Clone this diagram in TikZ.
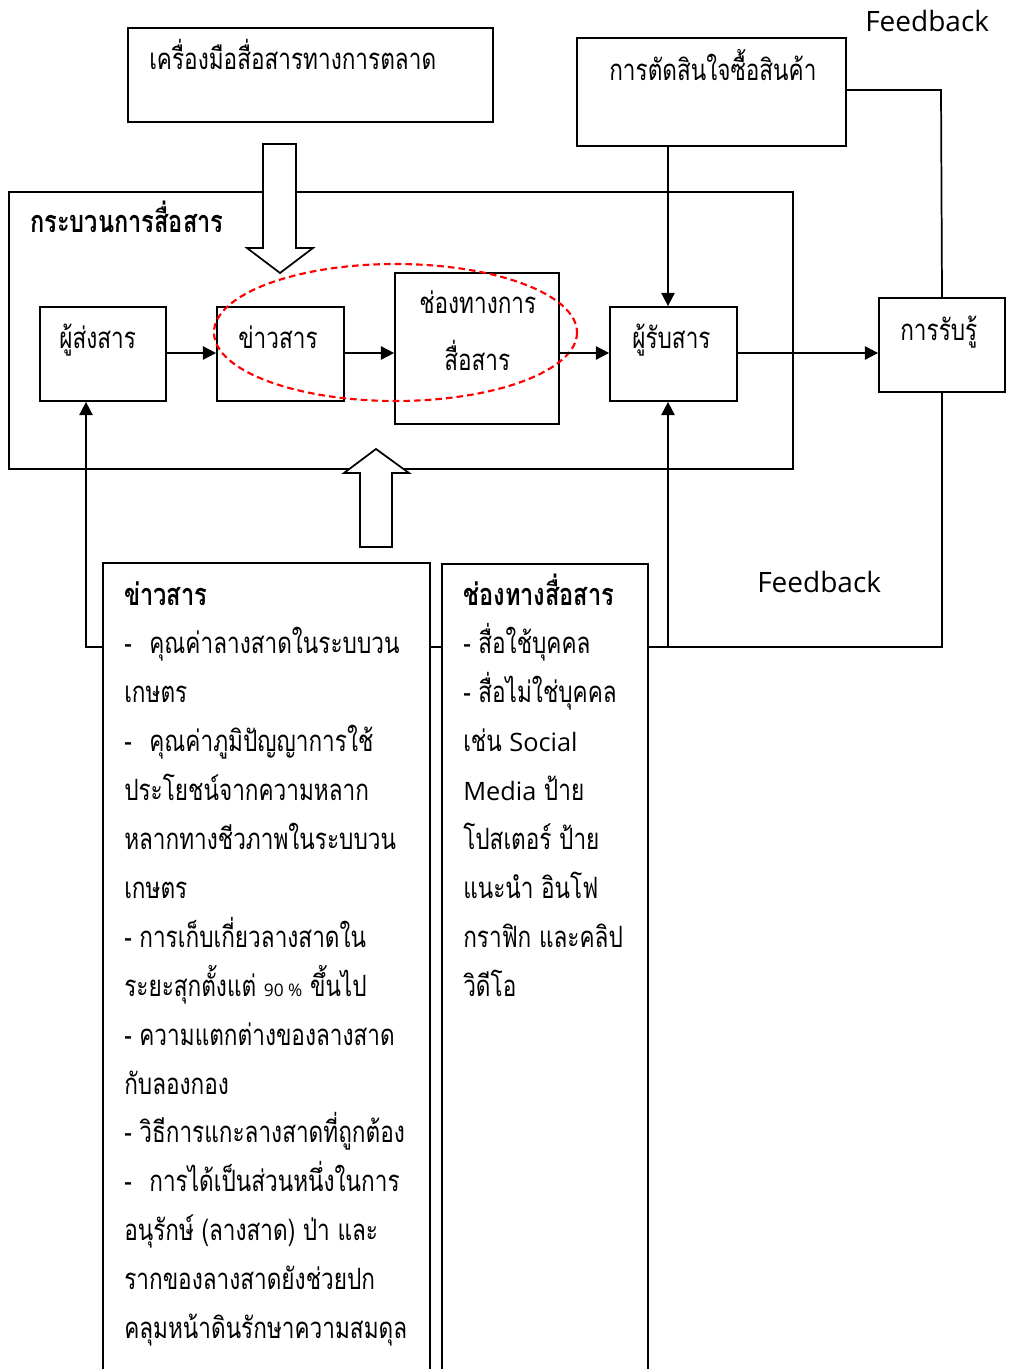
\documentclass[tikz,border=0pt]{standalone}
\usepackage{fontspec}
\setmainfont[Script=Thai, FakeStretch=0.77]{Loma}
\newfontfamily\latinfont{Open Sans}
\usetikzlibrary{arrows.meta,fit}
\tikzset{
  box/.style={draw, line width=1.3pt, inner sep=0pt},
  ln/.style={line width=1.3pt},
  arr/.style={line width=1.3pt, -{Triangle[length=10pt,width=10pt]}},
  txt/.style={anchor=base west, inner sep=0pt, font=\fontsize{22}{24}\selectfont},
  btxt/.style={txt, font=\fontsize{23}{25}\selectfont\bfseries},
  fbtxt/.style={anchor=base west, inner sep=0pt, font=\latinfont\fontsize{21}{25}\selectfont},
  hollow/.style={draw, line width=1.3pt, fill=white, line join=miter},
}
\newcommand{\lat}[1]{{\latinfont\fontsize{19}{22}\selectfont #1}}
\begin{document}
\begin{tikzpicture}[x=0.75pt,y=-0.75pt]
\useasboundingbox (0,0) rectangle (1008,1369);
% boxes
\node[box, fit={(128,28) (493,122)}] (tool) {};
\node[box, fit={(9,192) (793,469)}] (frame) {};
\node[box, fit={(577,38) (846,146)}] (dec) {};
\node[box, fit={(40,307) (166,401)}] (sender) {};
\node[box, fit={(217,307) (344,401)}] (msg) {};
\node[box, fit={(395,273) (559,424)}] (chan) {};
\node[box, fit={(610,307) (737,401)}] (recv) {};
\node[box, fit={(879,298) (1005,392)}] (perc) {};
\node[box, fit={(103,563) (430,1400)}] (msgbox) {};
\node[box, fit={(442,564) (648,1400)}] (chanbox) {};
% texts
\node[txt] (ttool) at (149,70) {เครื่องมือสื่อสารทางการตลาด};
\node[btxt] (tframe) at (30,233) {กระบวนการสื่อสาร};
\node[txt] (tdec) at (609,81) {การตัดสินใจซื้อสินค้า};
\node[txt] (tsender) at (59,349) {ผู้ส่งสาร};
\node[txt] (tmsg) at (238,349) {ข่าวสาร};
\node[txt] (tchan1) at (419,314) {ช่องทางการ};
\node[txt] (tchan2) at (444,370) {สื่อสาร};
\node[txt] (trecv) at (632,349) {ผู้รับสาร};
\node[txt] (tperc) at (900,340) {การรับรู้};
\node[fbtxt] (fb1) at (865,32) {Feedback};
\node[fbtxt] (fb2) at (757,592) {Feedback};
% lower box texts
\node[btxt] (ml0) at (124,605) {ข่าวสาร};
\foreach \t [count=\i] in {%
  -\hspace{0.6em}คุณค่าลางสาดในระบบวน,
  เกษตร,
  -\hspace{0.6em}คุณค่าภูมิปัญญาการใช้,
  ประโยชน์จากความหลาก,
  หลากทางชีวภาพในระบบวน,
  เกษตร,
  - การเก็บเกี่ยวลางสาดใน,
  ระยะสุกตั้งแต่ {\latinfont\fontsize{13}{15}\selectfont 90 \%} ขึ้นไป,
  - ความแตกต่างของลางสาด,
  กับลองกอง,
  - วิธีการแกะลางสาดที่ถูกต้อง,
  -\hspace{0.6em}การได้เป็นส่วนหนึ่งในการ,
  อนุรักษ์ (ลางสาด) ป่า และ,
  รากของลางสาดยังช่วยปก,
  คลุมหน้าดินรักษาความสมดุล}
  \node[txt] (ml\i) at (124,605+48.9*\i) {\t};
\node[btxt] (cl0) at (463,605) {ช่องทางสื่อสาร};
\foreach \t [count=\i] in {%
  - สื่อใช้บุคคล,
  - สื่อไม่ใช่บุคคล,
  เช่น \lat{Social},
  \lat{Media} ป้าย,
  โปสเตอร์ ป้าย,
  แนะนำ อินโฟ,
  กราฟิก และคลิป,
  วิดีโอ}
  \node[txt] (cl\i) at (463,605+48.9*\i) {\t};
% hollow block arrows
\draw[hollow] (263,144) -- (296,144) -- (296,248) -- (313,248) -- (280,273) -- (247,248) -- (263,248) -- cycle;
\draw[hollow] (360,547) -- (392,547) -- (392,473) -- (409,473) -- (376,449) -- (344,473) -- (360,473) -- cycle;
% red ellipse
\draw[red, line width=1.6pt, dash pattern=on 5pt off 3pt] (395.5,332.5) ellipse [x radius=181.5, y radius=68.5];
% connectors
\coordinate (fbl) at (0,647);
\coordinate (rx) at (668,0);
\coordinate (sx) at (86,0);
\draw[arr] (sender.east |- 0,353) -- (msg.west |- 0,353);
\draw[arr] (msg.east |- 0,353) -- (chan.west |- 0,353);
\draw[arr] (chan.east |- 0,353) -- (recv.west |- 0,353);
\draw[arr] (recv.east |- 0,353) -- (perc.west |- 0,353);
\draw[arr] (rx |- dec.south) -- (rx |- recv.north);
\draw[ln] (dec.east |- 0,90) -- (941,90) -- (perc.north);
\draw[ln] (perc.south) |- (chanbox.east |- fbl);
\draw[arr] (rx |- fbl) -- (rx |- recv.south);
\draw[arr] (msgbox.west |- fbl) -| (sx |- sender.south);
\draw[ln] (msgbox.east |- fbl) -- (chanbox.west |- fbl);
\end{tikzpicture}
\end{document}
